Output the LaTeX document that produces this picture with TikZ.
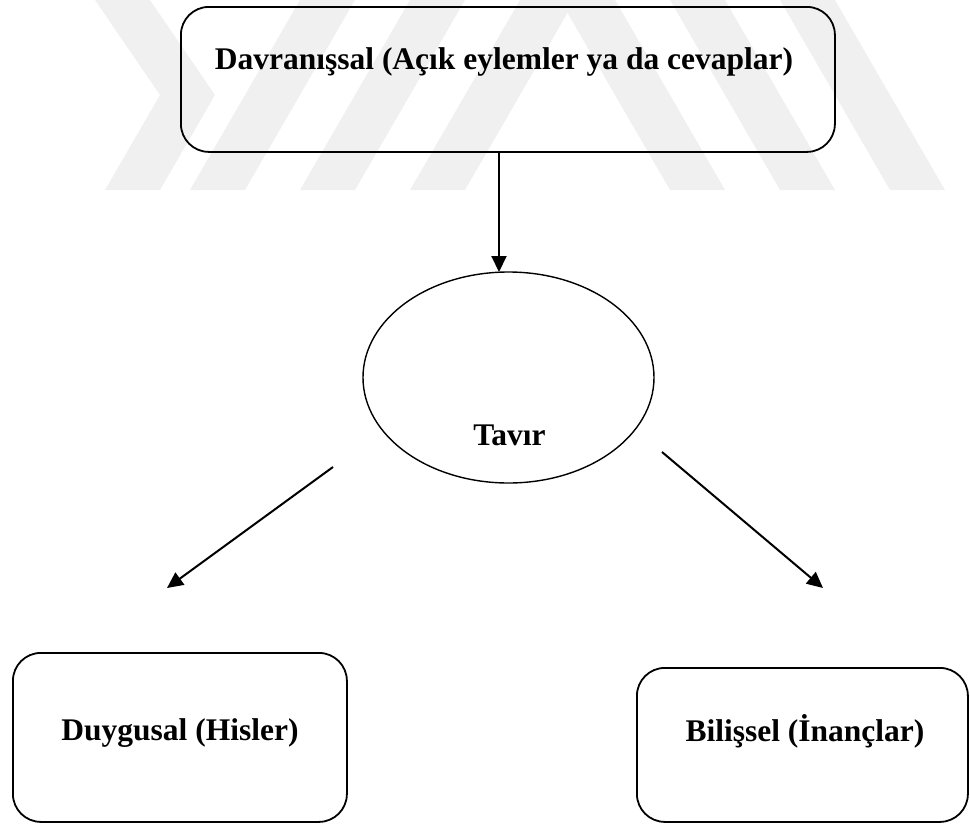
\documentclass[tikz,border=0pt]{standalone}
\usepackage{fontspec}
\setmainfont{Liberation Serif}
\usetikzlibrary{arrows.meta,shapes.geometric}
\definecolor{wmark}{gray}{0.94}
\tikzset{
  x=1pt, y=-1pt,
  boxshape/.style={draw=black, line width=1.8pt, rounded corners=28pt, inner sep=0pt, anchor=north west},
  ovalshape/.style={draw=black, line width=1.4pt, ellipse, inner sep=0pt},
  lbl/.style={font=\bfseries\fontsize{31.5}{37}\selectfont, inner sep=0pt, anchor=base},
  arr/.style={line width=2pt, -{Triangle[width=15pt,length=16pt]}},
  stripe/.style={fill=wmark, draw=none},
}
\begin{document}
\begin{tikzpicture}
\useasboundingbox (0,0) rectangle (970,823);
% faint watermark stripes
\fill[stripe] (95,0) -- (150,0) -- (215,95) -- (160,190) -- (105,190) -- (160,95) -- cycle;
\foreach \t in {300,410,520} {
  \fill[stripe] (\t,0) -- (\t+55,0) -- (\t-55,190) -- (\t-110,190) -- cycle;
}
\foreach \t in {560,670,780} {
  \fill[stripe] (\t,0) -- (\t+55,0) -- (\t+165,190) -- (\t+110,190) -- cycle;
}
% boxes
\node[boxshape, fill=white, fill opacity=0, minimum width=654pt, minimum height=145pt] (davr) at (180,6) {};
\node[boxshape, minimum width=334pt, minimum height=169pt] (duyg) at (12,652) {};
\node[boxshape, minimum width=331pt, minimum height=154pt] (bili) at (636,667) {};
\node[ovalshape, minimum width=291pt, minimum height=211pt] (tavir) at (508.5,377.5) {};
% texts
\node[lbl] (davrtxt) at (504,69) {Davranışsal (Açık eylemler ya da cevaplar)};
\node[lbl] (tavirtxt) at (509.5,445) {Tavır};
\node[lbl] (duygtxt) at (180,740) {Duygusal (Hisler)};
\node[lbl] (bilitxt) at (805,741) {Bilişsel (İnançlar)};
% connector ends
\coordinate (vstart) at (499,152);
\coordinate (vend) at (499,272);
\coordinate (lstart) at (333,467);
\coordinate (lend) at (167,588);
\coordinate (rstart) at (662,452);
\coordinate (rend) at (823,588);
\draw[arr] (vstart) -- (vend);
\draw[arr] (lstart) -- (lend);
\draw[arr] (rstart) -- (rend);
\end{tikzpicture}
\end{document}
